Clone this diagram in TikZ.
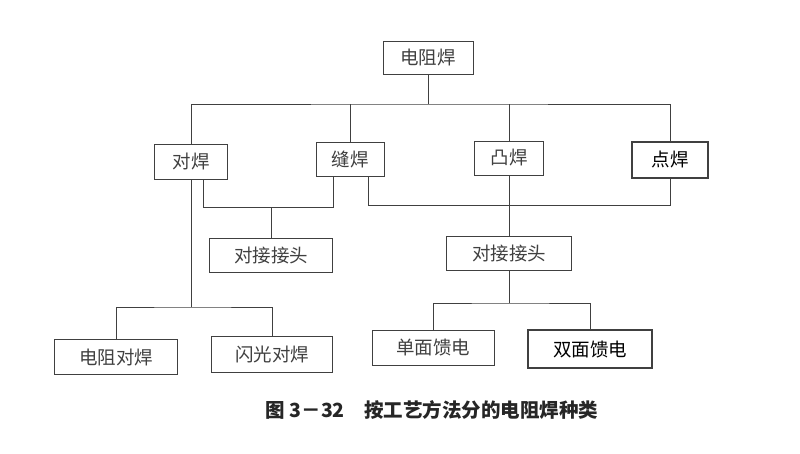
\documentclass[tikz,border=0pt]{standalone}
\usepackage{fontspec}
\newfontfamily\cjk{Noto Sans CJK SC}
\begin{document}
\begin{tikzpicture}[x=1pt,y=-1pt,
  bx/.style={draw=black!75,line width=0.9pt,font=\cjk\fontsize{18.5}{18.5}\selectfont,inner sep=0pt,text=black!75},
  ln/.style={draw=black!75,line width=0.9pt}]
\useasboundingbox[fill=white] (0,0) rectangle (800,453);
\node[bx,minimum width=90pt,minimum height=33pt] (top) at (428,58) {电阻焊};
\node[bx,minimum width=73pt,minimum height=35pt] (dh) at (191,162) {对焊};
\node[bx,minimum width=68pt,minimum height=34pt] (fh) at (350,159) {缝焊};
\node[bx,minimum width=69pt,minimum height=34pt] (th) at (509,158) {凸焊};
\node[bx,minimum width=76pt,minimum height=36pt,line width=1.3pt,text=black] (dd) at (670,160) {点焊};
\node[bx,minimum width=123pt,minimum height=34pt] (jl) at (271,255) {对接接头};
\node[bx,minimum width=125pt,minimum height=34pt] (jr) at (509,253) {对接接头};
\node[bx,minimum width=123pt,minimum height=35pt] (a1) at (116,357) {电阻对焊};
\node[bx,minimum width=121pt,minimum height=36pt] (a2) at (272,354) {闪光对焊};
\node[bx,minimum width=122pt,minimum height=35pt] (b1) at (433,348) {单面馈电};
\node[bx,minimum width=124pt,minimum height=38pt,line width=1.2pt,text=black] (b2) at (590,349) {双面馈电};
\node[font=\cjk\fontsize{19.5}{19.5}\selectfont\bfseries,text=black!85] (cap) at (432,410) {图 3－32\quad 按工艺方法分的电阻焊种类};
\coordinate (bus) at (428,104);
\draw[ln] (top.south) -- (bus);
\draw[ln] (dh.north) |- (bus) -| (dd.north);
\draw[ln] (fh.north) -- (fh.north |- bus);
\draw[ln] (th.north) -- (th.north |- bus);
\draw[ln] (dh.south -| 203,0) |- (333,207) -- (fh.south -| 333,0);
\draw[ln] (jl.north) -- (jl.north |- 0,207);
\draw[ln] (fh.south -| 368,0) |- (670,205) -- (dd.south);
\draw[ln] (th.south) -- (jr.north);
\draw[ln] (dh.south) -- (191,307);
\draw[ln] (a1.north) |- (191,307) -| (a2.north);
\draw[ln] (jr.south) -- (509,303);
\draw[ln] (b1.north) |- (509,303) -| (b2.north);
\end{tikzpicture}
\end{document}
